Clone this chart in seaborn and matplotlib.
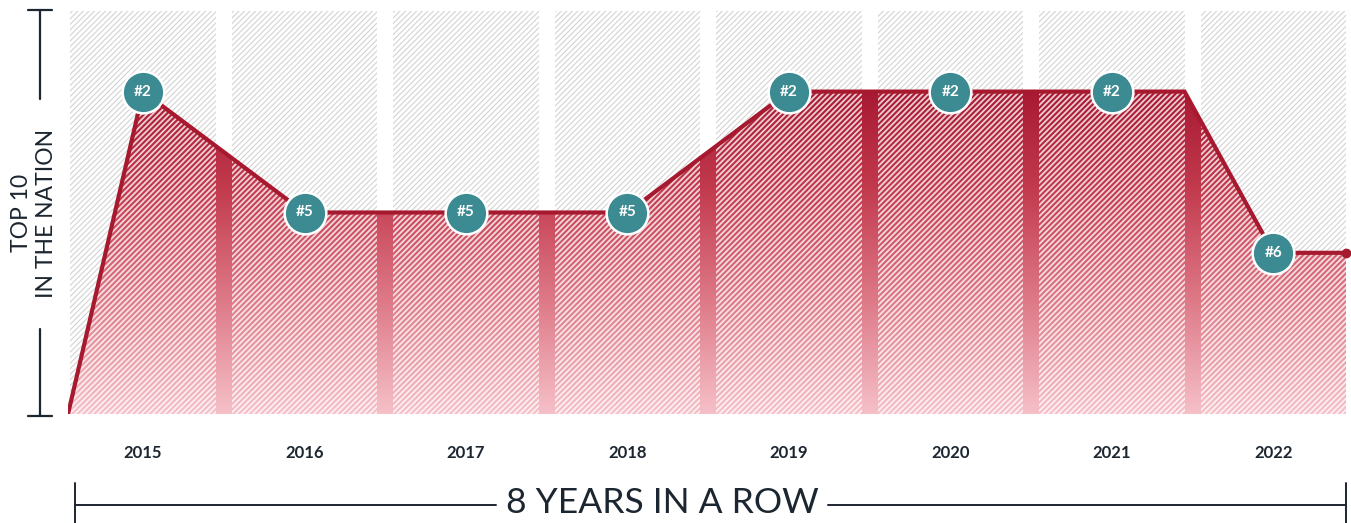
import numpy as np
import matplotlib
matplotlib.use("Agg")
import matplotlib.pyplot as plt
import seaborn as sns
from matplotlib.patches import Polygon
from matplotlib.lines import Line2D
from matplotlib.colors import LinearSegmentedColormap

# data
years = ["2015", "2016", "2017", "2018", "2019", "2020", "2021", "2022"]
ranks = [2, 5, 5, 5, 2, 2, 2, 6]
rank_labels = ["#2", "#5", "#5", "#5", "#2", "#2", "#2", "#6"]
worst_rank = 10
title = "8 YEARS IN A ROW"
ylabel = "TOP 10\nIN THE NATION"

sns.set_style("white")
plt.rcParams["font.family"] = ["Lato", "DejaVu Sans"]

W, H = 1351, 523
fig = plt.figure(figsize=(W / 100, H / 100), dpi=100)
ax = fig.add_axes([68 / W, 1 - 414 / H, (1346 - 68) / W, (414 - 11) / H])

dark = "#1c2630"
red = "#a6192e"
teal = "#3c8a92"
stripes = "/" * 6

x_left, x_right = -0.465, 7.45
half = 0.45

# line path: ramp up from the bottom-left, hold 2021 to its column edge, then step down
idx = list(range(len(years)))
line_x = [x_left] + idx[:7] + [6 + half, 7, x_right]
line_y = [worst_rank] + ranks[:7] + [ranks[6], ranks[7], ranks[7]]

# background hatched columns
plt.rcParams["hatch.linewidth"] = 0.8
sns.barplot(x=years, y=[worst_rank] * len(years), width=2 * half, color="white",
            saturation=1, errorbar=None, ax=ax, zorder=1)
for p in ax.patches:
    p.set_hatch(stripes)
    p.set_edgecolor("#d3d3d3")
    p.set_linewidth(0)

# red area with vertical gradient
area = Polygon([(x_left, worst_rank)] + list(zip(line_x, line_y)) + [(x_right, worst_rank)],
               closed=True, facecolor="none", edgecolor="none")
ax.add_patch(area)
cmap = LinearSegmentedColormap.from_list("redfade", ["#a3142e", "#c23a4e", "#de7a88", "#f5c0c8"])
grad = np.linspace(0, 1, 256).reshape(-1, 1)
im = ax.imshow(grad, extent=(x_left, x_right, worst_rank, 1.6), origin="upper",
               aspect="auto", cmap=cmap, zorder=2)
im.set_clip_path(area)

# white hatch over the red, only inside the year columns
plt.rcParams["hatch.linewidth"] = 1.3
over = ax.bar(idx, [worst_rank] * len(years), width=2 * half, color="none",
              edgecolor=(1, 1, 1, 0.78), linewidth=0, hatch=stripes, zorder=3)
for p in over:
    p.set_edgecolor((1, 1, 1, 0.78))
    p.set_clip_path(area)

# line, end dot and rank markers
sns.lineplot(x=line_x, y=line_y, sort=False, color=red, linewidth=3, ax=ax, zorder=4,
             solid_capstyle="round", solid_joinstyle="miter")
ax.plot([x_right], [ranks[-1]], "o", color=red, markersize=6, zorder=4, clip_on=False)
sns.scatterplot(x=idx, y=ranks, s=900, color=teal, edgecolor="white", linewidth=1.8,
                ax=ax, zorder=5, clip_on=False)
for i, (r, lab) in enumerate(zip(ranks, rank_labels)):
    ax.text(i, r, lab, color="white", fontsize=11, fontweight="bold",
            ha="center", va="center", zorder=6)

ax.set_xlim(x_left, x_right)
ax.set_ylim(worst_rank, 0)
ax.set_xticks(idx, years)
ax.tick_params(axis="x", length=0, pad=22, labelsize=12, labelcolor=dark)
for t in ax.get_xticklabels():
    t.set_fontweight("bold")
ax.set_yticks([])
ax.set_xlabel("")
ax.set_ylabel("")
sns.despine(ax=ax, left=True, bottom=True)


def fx(x):
    return x / W


def fy(y):
    return 1 - y / H


# left scale bar
for seg in [((40, 40), (10, 99)), ((40, 40), (329, 416)), ((28, 52), (10, 10)), ((28, 52), (416, 416))]:
    fig.add_artist(Line2D([fx(v) for v in seg[0]], [fy(v) for v in seg[1]], color=dark, lw=1.6))
fig.text(fx(34), fy(213), ylabel, rotation=90, ha="center", va="center",
         multialignment="center", fontsize=16.5, color=dark, linespacing=1.2)

# bottom bracket with title
for seg in [((75, 496), (505, 505)), ((828, 1346), (505, 505)),
            ((75, 75), (483, 523)), ((1346, 1346), (483, 523))]:
    fig.add_artist(Line2D([fx(v) for v in seg[0]], [fy(v) for v in seg[1]], color=dark, lw=1.4))
fig.text(fx(662), fy(503), title, ha="center", va="center", fontsize=25.5, color=dark)

fig.savefig("out.png", dpi=100)
